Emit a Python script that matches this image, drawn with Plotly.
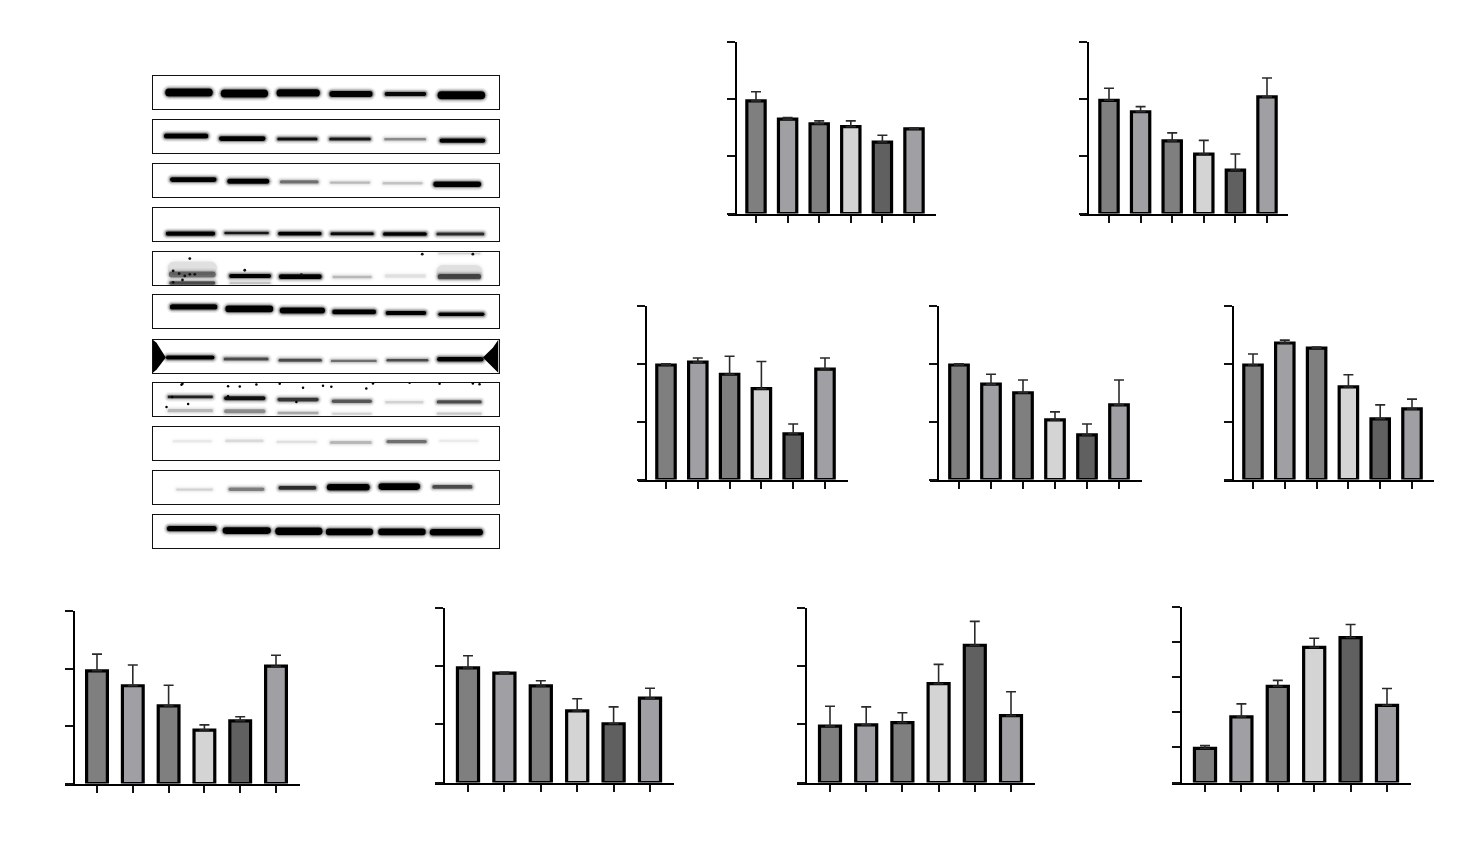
import plotly.graph_objects as go

W, H = 1471, 858

# ---------- bar chart data (values in axis-tick units) ----------
conditions = [0, 1, 2, 3, 4, 5]
bar_colors = ["#7f7f7f", "#a0a0a4", "#7f7f7f", "#d4d4d4", "#606060", "#a0a0a4"]

v1 = [1.97, 1.65, 1.57, 1.52, 1.25, 1.48]
e1 = [0.16, 0.03, 0.05, 0.10, 0.12, 0.02]
v2 = [1.98, 1.78, 1.27, 1.04, 0.76, 2.04]
e2 = [0.21, 0.09, 0.14, 0.24, 0.28, 0.33]
v3 = [1.98, 2.03, 1.82, 1.57, 0.79, 1.91]
e3 = [0.02, 0.07, 0.31, 0.47, 0.17, 0.19]
v4 = [1.98, 1.65, 1.50, 1.03, 0.77, 1.29]
e4 = [0.02, 0.17, 0.22, 0.14, 0.19, 0.43]
v5 = [1.98, 2.36, 2.27, 1.60, 1.05, 1.22]
e5 = [0.19, 0.05, 0.02, 0.21, 0.24, 0.17]
v6 = [1.96, 1.70, 1.35, 0.93, 1.09, 2.04]
e6 = [0.29, 0.36, 0.36, 0.09, 0.07, 0.19]
v7 = [1.97, 1.88, 1.66, 1.23, 1.01, 1.45]
e7 = [0.21, 0.02, 0.09, 0.21, 0.29, 0.17]
v8 = [0.97, 0.99, 1.03, 1.70, 2.36, 1.15]
e8 = [0.34, 0.31, 0.17, 0.33, 0.41, 0.41]
v9 = [0.97, 1.87, 2.74, 3.85, 4.13, 2.20]
e9 = [0.08, 0.37, 0.17, 0.26, 0.37, 0.48]

# (x-axis left, x-axis right, y-axis x, top, bottom, first bar centre, last bar centre, y max)
frames = [
    (728, 936, 736, 42, 213.5, 756, 914, 3),
    (1080, 1288, 1088, 42, 213.5, 1109, 1267, 3),
    (638, 848, 646, 306, 479.5, 666, 825, 3),
    (930, 1142, 938, 306, 479.5, 959, 1119, 3),
    (1224, 1434, 1233, 306, 479.5, 1253, 1412, 3),
    (65, 300, 74, 611, 783.5, 97, 276, 3),
    (435, 674, 444, 608, 782.5, 468, 650, 3),
    (797, 1035, 806, 608, 782.5, 830, 1011, 3),
    (1172, 1411, 1181, 607, 782.5, 1205, 1387, 5),
]
bar_values = [v1, v2, v3, v4, v5, v6, v7, v8, v9]
bar_errors = [e1, e2, e3, e4, e5, e6, e7, e8, e9]

# ---------- western blot data (gel units: frame is 1039 wide, 100 tall) ----------
lane_start = [
    [80, 247, 414, 572, 737, 898], [75, 240, 414, 570, 735, 902], [93, 265, 422, 572, 730, 884],
    [80, 255, 417, 574, 732, 892], [90, 270, 420, 580, 737, 897], [93, 260, 423, 580, 740, 898],
    [80, 253, 418, 575, 742, 895], [85, 255, 415, 578, 738, 893], [100, 258, 412, 572, 742, 900],
    [110, 268, 418, 565, 720, 880], [84, 252, 410, 562, 719, 874],
]
lane_end = [
    [215, 381, 537, 696, 858, 1033], [203, 375, 532, 692, 858, 1035], [228, 386, 535, 690, 848, 1022],
    [224, 386, 544, 701, 860, 1033], [225, 392, 544, 695, 857, 1022], [230, 397, 553, 707, 858, 1033],
    [222, 385, 545, 710, 865, 1030], [218, 375, 535, 695, 850, 1025], [215, 370, 530, 695, 860, 1015],
    [218, 372, 528, 687, 838, 997], [228, 390, 545, 697, 855, 1027],
]
band_depth = [
    [51, 54, 52, 55, 55, 59], [49, 57, 58, 58, 59, 63], [48, 53, 55, 57, 59, 62],
    [78, 76, 78, 78, 79, 79], [69, 73, 75, 76, 73, 75], [37, 43, 48, 52, 55, 59],
    [54, 58, 62, 64, 62, 59], [43, 47, 51, 56, 59, 58], [44, 43, 46, 48, 45, 43],
    [57, 56, 52, 50, 48, 49], [42, 48, 50, 52, 52, 53],
]
band_thickness = [
    [24, 24, 22, 18, 12, 24], [15, 14, 9, 9, 7, 13], [14, 15, 10, 7, 7, 16],
    [13, 8, 11, 9, 11, 9], [18, 12, 14, 8, 10, 16], [16, 20, 18, 14, 12, 11],
    [12, 9, 9, 7, 8, 14], [8, 12, 11, 11, 8, 10], [7, 8, 7, 9, 10, 7],
    [7, 11, 11, 20, 20, 11], [16, 20, 22, 20, 20, 20],
]
band_darkness = [
    [1, 1, 1, 1, .95, 1], [1, 1, .9, .85, .35, 1], [1, 1, .45, .2, .17, 1],
    [1, .85, 1, .95, 1, .75], [.45, 1, 1, .2, .08, .6], [1, 1, 1, 1, 1, 1],
    [1, .6, .6, .45, .6, 1], [.8, .9, .7, .55, .12, .6], [.06, .1, .08, .2, .45, .05],
    [.12, .4, .75, 1, 1, .6], [1, 1, 1, 1, 1, 1],
]
# additional faint bands: panels 5 and 8
extra_panel = [7, 7, 7, 7, 7, 4, 4, 4, 4, 4]
extra_lane = [0, 1, 2, 3, 5, 0, 0, 1, 5, 5]
extra_depth = [84, 86, 91, 93, 93, 94, 50, 94, 60, 6]
extra_thickness = [10, 12, 7, 6, 7, 10, 40, 4, 40, 4]
extra_darkness = [.2, .35, .25, .12, .15, .6, .08, .2, .08, .12]
# specks
speck5_x = [100, 118, 135, 150, 165, 128, 100, 150, 315, 485, 848, 1000]
speck5_y = [58, 66, 73, 68, 68, 85, 92, 21, 56, 69, 8, 8]
speck8_x = [125, 97, 265, 350, 265, 575, 470, 145, 80, 680, 128, 420, 700, 810, 900, 1000, 1020, 550, 300, 490]
speck8_y = [7, 43, 41, 6, 11, 13, 58, 64, 73, 18, 4, 4, 3, 1, 4, 3, 5, 10, 12, 16]
# black wedges of panel 7
wedge_left_x = [38, 50, 78, 50, 38]
wedge_left_y = [0, 10, 54, 90, 100]
wedge_right_x = [1077, 1060, 1030, 1060, 1077]
wedge_right_y = [0, 25, 54, 85, 100]

blot_tops = [75.5, 119.5, 163.5, 207.5, 251.5, 294.5, 339.5, 382.5, 426.5, 470.5, 514.5]
blot_left, blot_right, blot_height = 152.5, 498.5, 33.5

fig = go.Figure()
layout = dict(
    width=W, height=H, autosize=False, showlegend=False,
    margin=dict(l=0, r=0, t=0, b=0), paper_bgcolor="white", plot_bgcolor="rgba(0,0,0,0)",
    bargap=0.43, hovermode=False,
)
n = 0


def names(i):
    s = "" if i == 1 else str(i)
    return "x" + s, "y" + s, "xaxis" + s, "yaxis" + s


# ---------- bar charts ----------
for fr, vals, errs in zip(frames, bar_values, bar_errors):
    n += 1
    xa, ya, xk, yk = names(n)
    x0, x1, yx, top, bot, c0, c5, ymax = fr
    step = (c5 - c0) / 5
    fig.add_trace(go.Bar(
        x=conditions, y=vals, width=0.58, xaxis=xa, yaxis=ya,
        marker=dict(color=bar_colors, line=dict(color="black", width=3.2)),
        error_y=dict(type="data", symmetric=False, array=errs, arrayminus=[0] * 6,
                     color="#2a2a2a", thickness=1.6, width=5),
    ))
    layout[xk] = dict(
        domain=[x0 / W, x1 / W], range=[(x0 - c0) / step, (x1 - c0) / step], anchor=ya,
        showgrid=False, zeroline=False, showline=True, linecolor="black", linewidth=2.4,
        ticks="outside", ticklen=7, tickwidth=2, tickcolor="#111", tickvals=conditions,
        showticklabels=False,
    )
    layout[yk] = dict(
        domain=[1 - bot / H, 1 - top / H], range=[0, ymax], anchor="free",
        position=yx / W, showgrid=False, zeroline=False, showline=True, linecolor="black",
        linewidth=2.4, ticks="outside", ticklen=8, tickwidth=2, tickcolor="#111",
        tickvals=list(range(ymax + 1)), showticklabels=False,
    )


def band(xa, ya, x0, x1, y, th, dark):
    px = th / 3
    inset = th / 3
    for extra, alpha in ((7, .07), (4.5, .12), (2.2, .28), (0, 1)):
        fig.add_trace(go.Scatter(
            x=[x0 + inset, x1 - inset], y=[y, y], mode="lines", xaxis=xa, yaxis=ya,
            line=dict(color=f"rgba(0,0,0,{alpha * dark:.3f})", width=px + extra),
            hoverinfo="skip",
        ))


# ---------- blots ----------
for p, top in enumerate(blot_tops):
    n += 1
    xa, ya, xk, yk = names(n)
    for i in range(6):
        band(xa, ya, lane_start[p][i], lane_end[p][i], band_depth[p][i],
             band_thickness[p][i], band_darkness[p][i])
    for q, j, d, th, dk in zip(extra_panel, extra_lane, extra_depth, extra_thickness, extra_darkness):
        if q == p:
            band(xa, ya, lane_start[p][j], lane_end[p][j], d, th, dk)
    if p == 7:
        fig.add_trace(go.Scatter(x=speck8_x, y=speck8_y, mode="markers", xaxis=xa, yaxis=ya,
                                 marker=dict(color="black", size=2.5), hoverinfo="skip"))
    if p == 4:
        fig.add_trace(go.Scatter(x=speck5_x, y=speck5_y, mode="markers", xaxis=xa, yaxis=ya,
                                 marker=dict(color="#111", size=2.8), hoverinfo="skip"))
    if p == 6:
        for wx, wy in ((wedge_left_x, wedge_left_y), (wedge_right_x, wedge_right_y)):
            fig.add_trace(go.Scatter(x=wx, y=wy, mode="lines", fill="toself", fillcolor="black",
                                     xaxis=xa, yaxis=ya, line=dict(color="rgba(0,0,0,0)", width=0),
                                     hoverinfo="skip"))
    layout[xk] = dict(
        domain=[blot_left / W, blot_right / W], range=[38, 1077], anchor=ya, showgrid=False,
        zeroline=False, showline=True, mirror=True, linecolor="#111", linewidth=1,
        ticks="", showticklabels=False,
    )
    layout[yk] = dict(
        domain=[1 - (top + blot_height) / H, 1 - top / H], range=[100, 0], anchor=xa,
        showgrid=False, zeroline=False, showline=True, mirror=True, linecolor="#111",
        linewidth=1, ticks="", showticklabels=False,
    )

fig.update_layout(**layout)

post = """
document.body.style.margin='0';
document.body.style.overflow='hidden';
var s=document.createElement('style');
s.textContent='.js-line{stroke-linecap:round;}';
document.head.appendChild(s);
"""
fig.write_html("out.html", post_script=post, config={"displayModeBar": False})
